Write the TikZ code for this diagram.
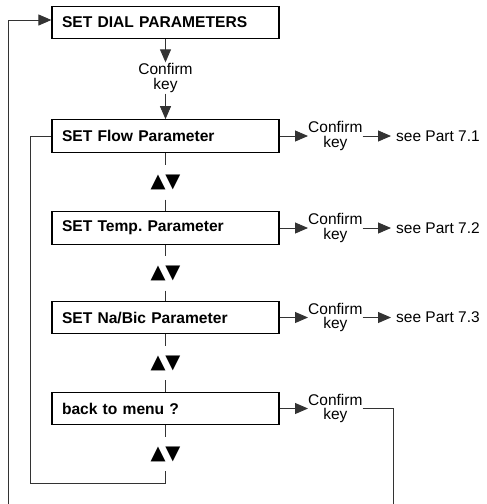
\documentclass[tikz,border=0pt]{standalone}
\usepackage{fontspec}
\setmainfont{Liberation Sans}
\newfontfamily\symfont{DejaVu Sans}
\usetikzlibrary{arrows.meta}
\frenchspacing
\begin{document}
\begin{tikzpicture}[x=1pt,y=-1pt,
  box/.style={draw=black,line width=1.2pt,minimum height=32.5pt,text width=207pt,
    inner xsep=10pt,inner ysep=0pt,align=left,font=\fontsize{15.6}{18}\selectfont\bfseries},
  conf/.style={inner sep=0pt,align=center,font=\fontsize{15.5}{14.5}\selectfont},
  seep/.style={inner xsep=5pt,inner ysep=0pt,anchor=west,font=\fontsize{15.5}{18}\selectfont},
  ud/.style={inner sep=0pt,minimum height=34pt,font=\symfont\fontsize{19.5}{19.5}\selectfont},
  ln/.style={draw=black!80,line width=0.9pt},
  arr/.style={ln,-{Triangle[length=13pt,width=11pt]}}]
\useasboundingbox (0,0) rectangle (487,504);
\clip (0,0) rectangle (487,504);

\node[box] (b1) at (165.5,22.5) {SET DIAL PARAMETERS};
\node[box] (b2) at (165.5,136) {SET Flow Parameter};
\node[box] (b3) at (165.5,228) {SET Temp. Parameter};
\node[box] (b4) at (165.5,317.5) {SET Na/Bic Parameter};
\node[box] (b5) at (165.5,408.5) {back to menu ?};

\node[conf,inner sep=1pt] (c1) at (165.5,78) {Confirm\\key};
\node[conf,anchor=west] (c2) at (308,136) {Confirm\\key};
\node[conf,anchor=west] (c3) at (308,228) {Confirm\\key};
\node[conf,anchor=west] (c4) at (308,317.5) {Confirm\\key};
\node[conf,anchor=west] (c5) at (308,408.5) {Confirm\\key};

\node[seep] (s2) at (391,136) {see Part 7.1};
\node[seep] (s3) at (391,228) {see Part 7.2};
\node[seep] (s4) at (391,317.5) {see Part 7.3};

\node[ud] (u1) at (165.5,182.5) {▲▼};
\node[ud] (u2) at (165.5,273.5) {▲▼};
\node[ud] (u3) at (165.5,363) {▲▼};
\node[ud] (u4) at (165.5,454) {▲▼};

\coordinate (lb) at (30,483);
\coordinate (rb) at (393,530);
\coordinate (lt) at (8,20);

\draw[arr] (b1) -- (c1);
\draw[arr] (c1) -- (b2);

\draw[ln] (b2) -- (u1);
\draw[ln] (u1) -- (b3);
\draw[ln] (b3) -- (u2);
\draw[ln] (u2) -- (b4);
\draw[ln] (b4) -- (u3);
\draw[ln] (u3) -- (b5);
\draw[ln] (b5) -- (u4);

\draw[arr] (b2.east) -- (c2.west);
\draw[arr] (c2.east) -- (s2.west);
\draw[arr] (b3.east) -- (c3.west);
\draw[arr] (c3.east) -- (s3.west);
\draw[arr] (b4.east) -- (c4.west);
\draw[arr] (c4.east) -- (s4.west);
\draw[arr] (b5.east) -- (c5.west);

\draw[ln] (u4.south) |- (lb) |- (b2.west);
\draw[arr] (c5.east) -| (rb) -| (lt) -- (lt -| b1.west);
\end{tikzpicture}
\end{document}
